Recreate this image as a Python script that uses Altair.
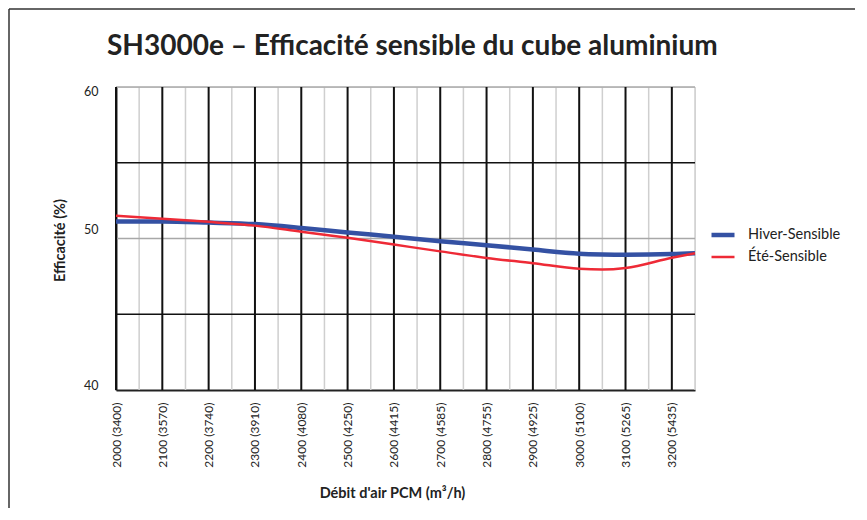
import altair as alt
import pandas as pd

# ---- data ----
debit_cfm = [2000, 2100, 2200, 2300, 2400, 2500, 2600, 2700, 2800, 2900, 3000, 3050, 3100, 3200, 3250]
hiver = [51.12, 51.12, 51.05, 50.95, 50.70, 50.40, 50.12, 49.82, 49.56, 49.27, 49.00, 48.95, 48.93, 48.97, 49.03]
ete = [51.50, 51.30, 51.10, 50.85, 50.45, 50.05, 49.60, 49.15, 48.72, 48.37, 48.00, 47.95, 48.05, 48.73, 49.03]

tick_cfm = [2000, 2100, 2200, 2300, 2400, 2500, 2600, 2700, 2800, 2900, 3000, 3100, 3200]
tick_m3h = [3400, 3570, 3740, 3910, 4080, 4250, 4415, 4585, 4755, 4925, 5100, 5265, 5435]

vgrid_major = [2000, 2100, 2200, 2300, 2400, 2500, 2600, 2700, 2800, 2900, 3000, 3100, 3200]
vgrid_minor = [2050, 2150, 2250, 2350, 2450, 2550, 2650, 2750, 2850, 2950, 3050, 3150, 3250]
hgrid_major = [45, 55]
hgrid_minor = [50, 60]
y_ticks = [40, 50, 60]

series_names = ["Hiver-Sensible", "Été-Sensible"]
TITLE = "SH3000e – Efficacité sensible du cube aluminium"
FONT = "Lato"

rows = []
for x, h, e in zip(debit_cfm, hiver, ete):
    rows.append({"debit": x, "eff": h, "serie": series_names[0]})
    rows.append({"debit": x, "eff": e, "serie": series_names[1]})
df = pd.DataFrame(rows)

labels_js = "[" + ",".join(f"'{c} ({m})'" for c, m in zip(tick_cfm, tick_m3h)) + "]"
label_expr = f"{labels_js}[round((datum.value - {tick_cfm[0]}) / 100)]"

xscale = alt.Scale(domain=[2000, 3250], nice=False, zero=False)
yscale = alt.Scale(domain=[40, 60], nice=False, zero=False)

vmin = alt.Chart(pd.DataFrame({"v": vgrid_minor})).mark_rule(color="#cfcfcf", strokeWidth=1.5).encode(
    x=alt.X("v:Q", scale=xscale))
vmaj = alt.Chart(pd.DataFrame({"v": vgrid_major})).mark_rule(color="#111111", strokeWidth=2).encode(
    x=alt.X("v:Q", scale=xscale))
hmin = alt.Chart(pd.DataFrame({"h": hgrid_minor})).mark_rule(color="#a8a8a8", strokeWidth=1.5).encode(
    y=alt.Y("h:Q", scale=yscale))
hmaj = alt.Chart(pd.DataFrame({"h": hgrid_major})).mark_rule(color="#111111", strokeWidth=1.5).encode(
    y=alt.Y("h:Q", scale=yscale))

leg = dict(title=None, orient="none", legendX=593, legendY=134, symbolType="stroke",
           symbolSize=529, labelFont=FONT, labelFontSize=14.5, labelColor="#222",
           rowPadding=0, labelOffset=11)

y_label_offset = {"condition": [{"test": "datum.value === 60", "value": 4},
                                {"test": "datum.value === 50", "value": -9}],
                  "value": -5}

lines = alt.Chart(df).mark_line(interpolate="monotone").encode(
    x=alt.X("debit:Q", scale=xscale,
            axis=alt.Axis(values=tick_cfm, labelExpr=label_expr, labelAngle=270, labelAlign="right",
                          labelBaseline="middle", labelFontSize=12, labelFont=FONT, labelColor="#222",
                          labelPadding=12, ticks=False, grid=False, domainColor="#222", domainWidth=2,
                          title="Débit d'air PCM (m³/h)", titleFont=FONT, titleFontSize=14.5,
                          titleFontWeight="bold", titleColor="#222", titleX=276, titleY=103,
                          titleBaseline="middle", titleAnchor="middle", titleAlign="center",
                          labelOverlap=False)),
    y=alt.Y("eff:Q", scale=yscale,
            axis=alt.Axis(values=y_ticks, ticks=False, grid=False, domainColor="#222", domainWidth=2,
                          labelFont=FONT, labelFontSize=12.5, labelColor="#222", labelPadding=18,
                          labelOffset=y_label_offset,
                          title="Efficacité (%)", titleFont=FONT, titleFontSize=14.5,
                          titleFontWeight="bold", titleColor="#222", titleAngle=270,
                          titleX=-56, titleY=153, titleBaseline="middle", titleAlign="center",
                          titleAnchor="middle")),
    color=alt.Color("serie:N", sort=series_names,
                    scale=alt.Scale(domain=series_names, range=["#3451a3", "#ee2a36"]),
                    legend=alt.Legend(**leg)),
    strokeWidth=alt.StrokeWidth("serie:N", sort=series_names,
                                scale=alt.Scale(domain=series_names, range=[4.5, 2.5]),
                                legend=alt.Legend(**leg)),
)

title = alt.Chart(pd.DataFrame({"t": [TITLE]})).mark_text(
    font=FONT, fontSize=28, fontWeight="bold", color="#222", align="left", baseline="alphabetic"
).encode(text="t:N", x=alt.value(-9), y=alt.value(-32))

frame_top = alt.Chart(pd.DataFrame({"k": [0]})).mark_rule(color="#333", strokeWidth=1.5).encode(
    x=alt.value(-107), x2=alt.value(760), y=alt.value(-78))
frame_left = alt.Chart(pd.DataFrame({"k": [0]})).mark_rule(color="#333", strokeWidth=1.5).encode(
    x=alt.value(-107), y=alt.value(-78), y2=alt.value(440))

chart = alt.layer(vmin, hmin, vmaj, hmaj, lines, title, frame_top, frame_left).properties(
    width=579, height=303,
    autosize=alt.AutoSizeParams(type="none"),
    padding={"left": 108, "top": 79, "right": 160, "bottom": 118},
).configure_view(stroke=None).configure(background="white")

chart.save("out.html", embed_options={"renderer": "svg", "actions": False})
